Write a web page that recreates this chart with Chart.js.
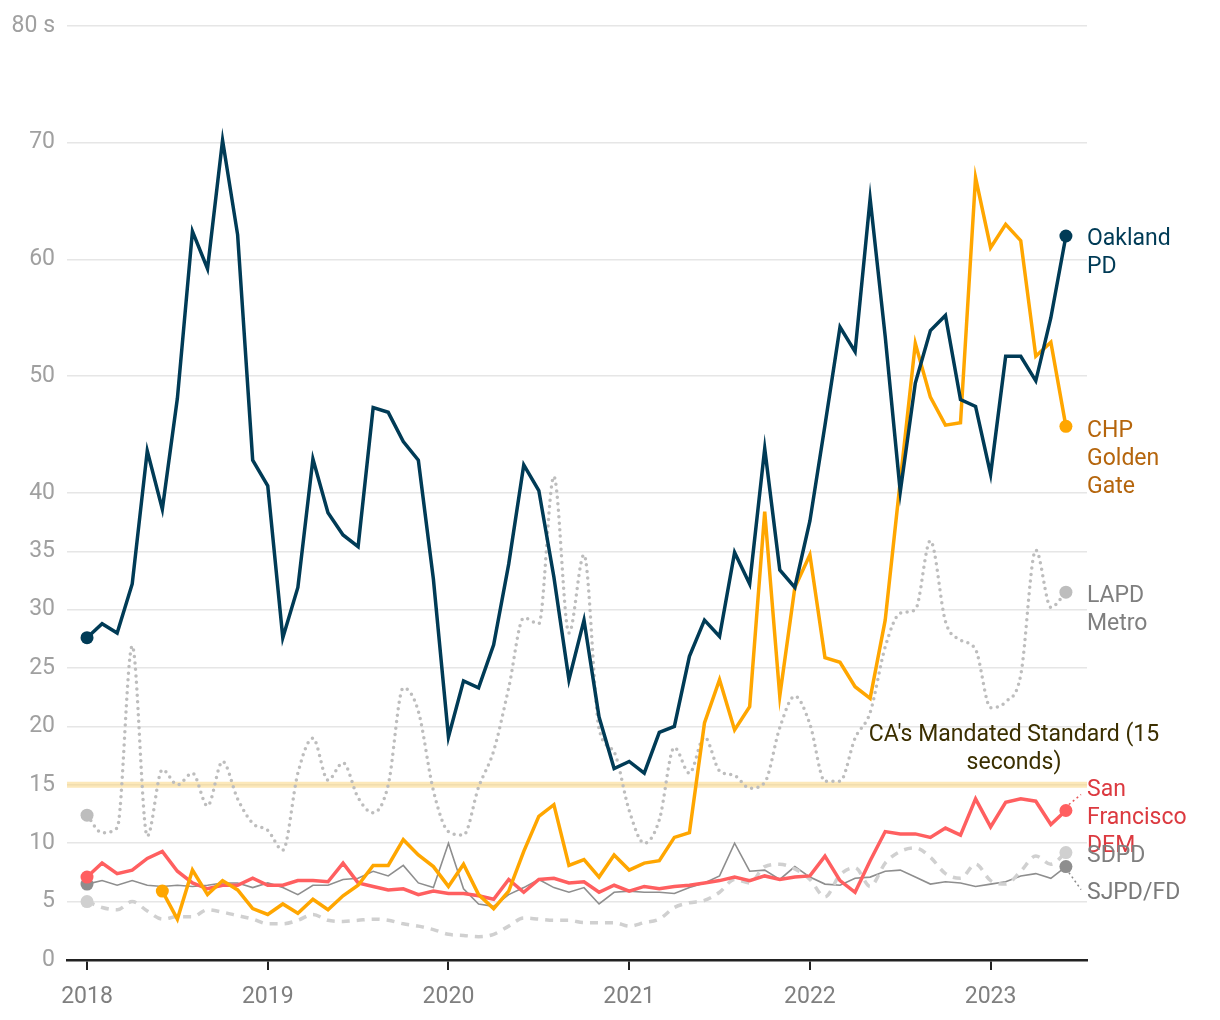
<!DOCTYPE html>
<html>
<head>
<meta charset="utf-8">
<script src="https://cdn.jsdelivr.net/npm/chart.js@4.4.1/dist/chart.umd.min.js"></script>
<style>
  html, body { margin: 0; padding: 0; background: #fff; }
  #wrap { width: 1220px; height: 1020px; position: relative; }
</style>
</head>
<body>
<div id="wrap"><canvas id="chart"></canvas></div>
<script>
/************ DATA ************/
// one entry per month, Jan 2018 .. Jun 2023
const months = [
  "Jan 2018", "Feb 2018", "Mar 2018", "Apr 2018", "May 2018", "Jun 2018",
  "Jul 2018", "Aug 2018", "Sep 2018", "Oct 2018", "Nov 2018", "Dec 2018",
  "Jan 2019", "Feb 2019", "Mar 2019", "Apr 2019", "May 2019", "Jun 2019",
  "Jul 2019", "Aug 2019", "Sep 2019", "Oct 2019", "Nov 2019", "Dec 2019",
  "Jan 2020", "Feb 2020", "Mar 2020", "Apr 2020", "May 2020", "Jun 2020",
  "Jul 2020", "Aug 2020", "Sep 2020", "Oct 2020", "Nov 2020", "Dec 2020",
  "Jan 2021", "Feb 2021", "Mar 2021", "Apr 2021", "May 2021", "Jun 2021",
  "Jul 2021", "Aug 2021", "Sep 2021", "Oct 2021", "Nov 2021", "Dec 2021",
  "Jan 2022", "Feb 2022", "Mar 2022", "Apr 2022", "May 2022", "Jun 2022",
  "Jul 2022", "Aug 2022", "Sep 2022", "Oct 2022", "Nov 2022", "Dec 2022",
  "Jan 2023", "Feb 2023", "Mar 2023", "Apr 2023", "May 2023", "Jun 2023",
];

const yearLabels = ["2018", "2019", "2020", "2021", "2022", "2023"];
const yTicks = [0, 5, 10, 15, 20, 25, 30, 35, 40, 50, 60, 70, 80];
const standard = 15;

const oakland = [
  27.6, 28.8, 28.0, 32.2, 43.6, 38.6, 48.1, 62.4, 59.2, 70.2, 62.1, 42.8,
  40.6, 27.6, 31.9, 42.9, 38.3, 36.4, 35.4, 47.3, 46.9, 44.4, 42.8, 32.6,
  19.1, 23.9, 23.3, 27.0, 33.9, 42.4, 40.2, 32.8, 24.0, 29.1, 20.8, 16.4,
  17.0, 16.0, 19.5, 20.0, 26.0, 29.1, 27.7, 34.9, 32.2, 43.8, 33.4, 31.9,
  37.6, 45.8, 54.2, 52.1, 65.2, 53.4, 40.1, 49.4, 53.9, 55.2, 48.0, 47.4,
  41.6, 51.7, 51.7, 49.6, 55.0, 62.0,
];

const chp = [
  null, null, null, null, null, 5.9, 3.5, 7.7, 5.6, 6.8, 6.0, 4.4,
  3.9, 4.8, 4.0, 5.2, 4.3, 5.5, 6.4, 8.1, 8.1, 10.3, 9.0, 8.0,
  6.3, 8.2, 5.6, 4.4, 5.9, 9.3, 12.3, 13.3, 8.1, 8.6, 7.1, 9.0,
  7.7, 8.3, 8.5, 10.5, 10.9, 20.3, 24.0, 19.7, 21.7, 38.4, 22.6, 31.9,
  34.7, 25.9, 25.5, 23.4, 22.4, 29.1, 41.0, 52.8, 48.2, 45.8, 46.0, 67.0,
  61.0, 63.0, 61.6, 51.7, 52.9, 45.7,
];

const lapd = [
  12.4, 10.9, 11.3, 26.9, 10.6, 16.3, 15.0, 16.0, 13.2, 17.0, 13.8, 11.7,
  11.1, 9.4, 16.0, 19.0, 15.4, 16.9, 13.9, 12.6, 15.0, 23.3, 21.3, 14.5,
  11.0, 10.7, 14.8, 17.9, 23.3, 29.3, 28.8, 41.4, 28.0, 34.7, 19.8, 17.8,
  12.8, 10.0, 12.0, 18.2, 16.0, 19.1, 16.2, 15.8, 14.7, 15.2, 19.9, 22.6,
  20.2, 15.3, 15.3, 19.0, 21.2, 26.8, 29.7, 30.0, 35.9, 29.0, 27.4, 26.6,
  21.6, 22.1, 24.4, 35.1, 30.2, 31.5,
];

const sfDem = [
  7.1, 8.3, 7.4, 7.7, 8.7, 9.3, 7.6, 6.6, 6.1, 6.4, 6.4, 7.0,
  6.4, 6.4, 6.8, 6.8, 6.7, 8.3, 6.6, 6.3, 6.0, 6.1, 5.6, 5.9,
  5.7, 5.7, 5.5, 5.2, 6.9, 5.8, 6.9, 7.0, 6.6, 6.7, 5.8, 6.4,
  5.9, 6.3, 6.1, 6.3, 6.4, 6.6, 6.8, 7.1, 6.8, 7.2, 6.9, 7.1,
  7.2, 8.9, 6.8, 5.8, 8.5, 11.0, 10.8, 10.8, 10.5, 11.3, 10.7, 13.8,
  11.4, 13.5, 13.8, 13.6, 11.6, 12.8,
];

const sdpd = [
  5.0, 4.5, 4.3, 5.0, 4.2, 3.5, 3.7, 3.7, 4.3, 4.1, 3.8, 3.5,
  3.1, 3.1, 3.4, 3.9, 3.4, 3.3, 3.4, 3.5, 3.4, 3.1, 2.9, 2.6,
  2.2, 2.1, 2.0, 2.2, 2.9, 3.6, 3.5, 3.4, 3.4, 3.2, 3.2, 3.2,
  2.9, 3.2, 3.5, 4.5, 4.9, 5.1, 5.8, 6.9, 6.6, 8.0, 8.2, 7.8,
  6.9, 5.4, 7.3, 7.9, 6.3, 8.3, 9.3, 9.6, 8.8, 7.4, 7.0, 8.2,
  6.8, 6.5, 7.6, 8.9, 8.2, 9.2,
];

const sjpd = [
  6.5, 6.8, 6.4, 6.8, 6.4, 6.3, 6.4, 6.3, 6.4, 6.6, 6.6, 6.2,
  6.6, 6.2, 5.6, 6.4, 6.4, 6.9, 7.0, 7.6, 7.2, 8.1, 6.6, 6.2,
  10.0, 6.1, 4.8, 4.6, 5.6, 6.2, 6.9, 6.2, 5.8, 6.2, 4.8, 5.8,
  5.9, 5.8, 5.8, 5.7, 6.2, 6.6, 7.2, 10.0, 7.6, 7.7, 6.9, 8.0,
  7.1, 6.5, 6.4, 7.0, 7.1, 7.6, 7.7, 7.1, 6.5, 6.7, 6.6, 6.3,
  6.5, 6.7, 7.2, 7.4, 7.0, 8.0,
];

const yearStarts = yearLabels.map(y => months.indexOf("Jan " + y));

/************ HELPERS ************/
const FONT = "Roboto, 'Noto Sans', sans-serif";
const FONT_SIZE = 23;
const toPoints = arr => arr.map((v, i) => ({ x: i, y: v }));

// dot at first and last real value of a series
function endDots(arr, r) {
  const first = arr.findIndex(v => v !== null);
  const last = arr.length - 1;
  return ctx => (ctx.dataIndex === first || ctx.dataIndex === last ? r : 0);
}

function series(label, arr, color, extra) {
  return Object.assign({
    label: label,
    data: toPoints(arr),
    borderColor: color,
    backgroundColor: color,
    pointBackgroundColor: color,
    pointBorderWidth: 0,
    pointRadius: endDots(arr, 6.5),
    pointHoverRadius: 0,
    borderWidth: 3.5,
    borderJoinStyle: "miter",
    tension: 0,
    spanGaps: false,
    fill: false,
  }, extra || {});
}

/************ LABELS ************/
// text, colour, vertical nudge (px) of first line from the last point
const seriesLabels = [
  { lines: ["Oakland", "PD"], color: "#003b56", dy: 3 },
  { lines: ["CHP", "Golden", "Gate"], color: "#b5650c", dy: 5 },
  { lines: ["LAPD", "Metro"], color: "#7f7f7f", dy: 4 },
  { lines: ["San", "Francisco", "DEM"], color: "#dc3a40", dy: -20, leader: "rgba(230,70,72,0.9)" },
  { lines: ["SDPD"], color: "#7f7f7f", dy: 4 },
  { lines: ["SJPD/FD"], color: "#7a7a7a", dy: 27, leader: "#8a8a8a" },
];

const annotate = {
  id: "annotate",
  beforeDatasetsDraw(chart) {
    const { ctx, chartArea, scales } = chart;
    const yy = scales.y.getPixelForValue(standard);
    ctx.save();
    ctx.strokeStyle = "rgba(249, 214, 128, 0.55)";
    ctx.lineWidth = 6;
    ctx.beginPath();
    ctx.moveTo(chartArea.left, yy);
    ctx.lineTo(chartArea.right, yy);
    ctx.stroke();
    ctx.restore();
  },
  afterDatasetsDraw(chart) {
    const { ctx, chartArea, scales } = chart;
    ctx.save();
    ctx.font = FONT_SIZE + "px " + FONT;
    ctx.textBaseline = "middle";

    // standard label
    const yy = scales.y.getPixelForValue(standard);
    ctx.fillStyle = "#3b2f00";
    ctx.textAlign = "center";
    ctx.fillText("CA's Mandated Standard (15", chartArea.right - 73, yy - 50);
    ctx.fillText("seconds)", chartArea.right - 73, yy - 22);

    // series labels at the right
    ctx.textAlign = "left";
    chart.data.datasets.forEach((ds, i) => {
      const lab = seriesLabels[i];
      const meta = chart.getDatasetMeta(i);
      const last = meta.data[meta.data.length - 1];
      const tx = chartArea.right;
      const ty = last.y + lab.dy;
      if (lab.leader) {
        ctx.save();
        ctx.strokeStyle = lab.leader;
        ctx.lineWidth = 1.5;
        ctx.setLineDash([2, 3]);
        ctx.beginPath();
        const dir = lab.dy < 0 ? -1 : 1;
        ctx.moveTo(last.x + 3, last.y + dir * 6);
        ctx.lineTo(tx - 6, ty - dir * 4);
        ctx.stroke();
        ctx.restore();
      }
      ctx.fillStyle = lab.color;
      lab.lines.forEach((t, k) => ctx.fillText(t, tx, ty + k * 28));
    });
    ctx.restore();
  },
};

/************ CHART ************/
const ctx = document.getElementById("chart").getContext("2d");
const chart = new Chart(ctx, {
  type: "line",
  data: {
    datasets: [
      series("Oakland PD", oakland, "#003b56"),
      series("CHP Golden Gate", chp, "#ffa600"),
      series("LAPD Metro", lapd, "#bdbdbd", {
        borderDash: [0, 6.5],
        borderCapStyle: "round",
        borderWidth: 3.5,
        cubicInterpolationMode: "monotone",
      }),
      series("San Francisco DEM", sfDem, "#ff5f60"),
      series("SDPD", sdpd, "#d0d0d0", {
        borderDash: [8, 7],
        borderWidth: 3.5,
        cubicInterpolationMode: "monotone",
      }),
      series("SJPD/FD", sjpd, "#8e8e8e", { borderWidth: 1.6 }),
    ],
  },
  options: {
    responsive: true,
    maintainAspectRatio: false,
    animation: false,
    layout: { padding: { top: 24, right: 133, left: 0, bottom: 0 } },
    plugins: {
      legend: { display: false },
      tooltip: { enabled: false },
    },
    scales: {
      x: {
        type: "linear",
        min: -1.33,
        max: 66.4,
        afterBuildTicks: s => { s.ticks = yearStarts.map(v => ({ value: v })); },
        afterFit: s => { s.height = 60; },
        ticks: {
          callback: v => yearLabels[yearStarts.indexOf(v)],
          color: "#7f7f7f",
          font: { family: FONT, size: FONT_SIZE },
          padding: 13,
          maxRotation: 0,
          autoSkip: false,
        },
        grid: {
          drawOnChartArea: false,
          drawTicks: true,
          tickLength: 10,
          color: "#222",
          lineWidth: 2,
        },
        border: { display: true, color: "#222", width: 2.5 },
      },
      y: {
        min: 0,
        max: 80,
        afterBuildTicks: s => { s.ticks = yTicks.map(v => ({ value: v })); },
        afterFit: s => { s.width = 67; },
        ticks: {
          callback: v => (v === 80 ? "80 s" : v),
          color: "#a0a0a0",
          font: { family: FONT, size: FONT_SIZE },
          padding: 12,
        },
        grid: { color: "#e6e6e6", lineWidth: 1.5, drawTicks: false },
        border: { display: false },
      },
    },
  },
  plugins: [annotate],
});
</script>
</body>
</html>
